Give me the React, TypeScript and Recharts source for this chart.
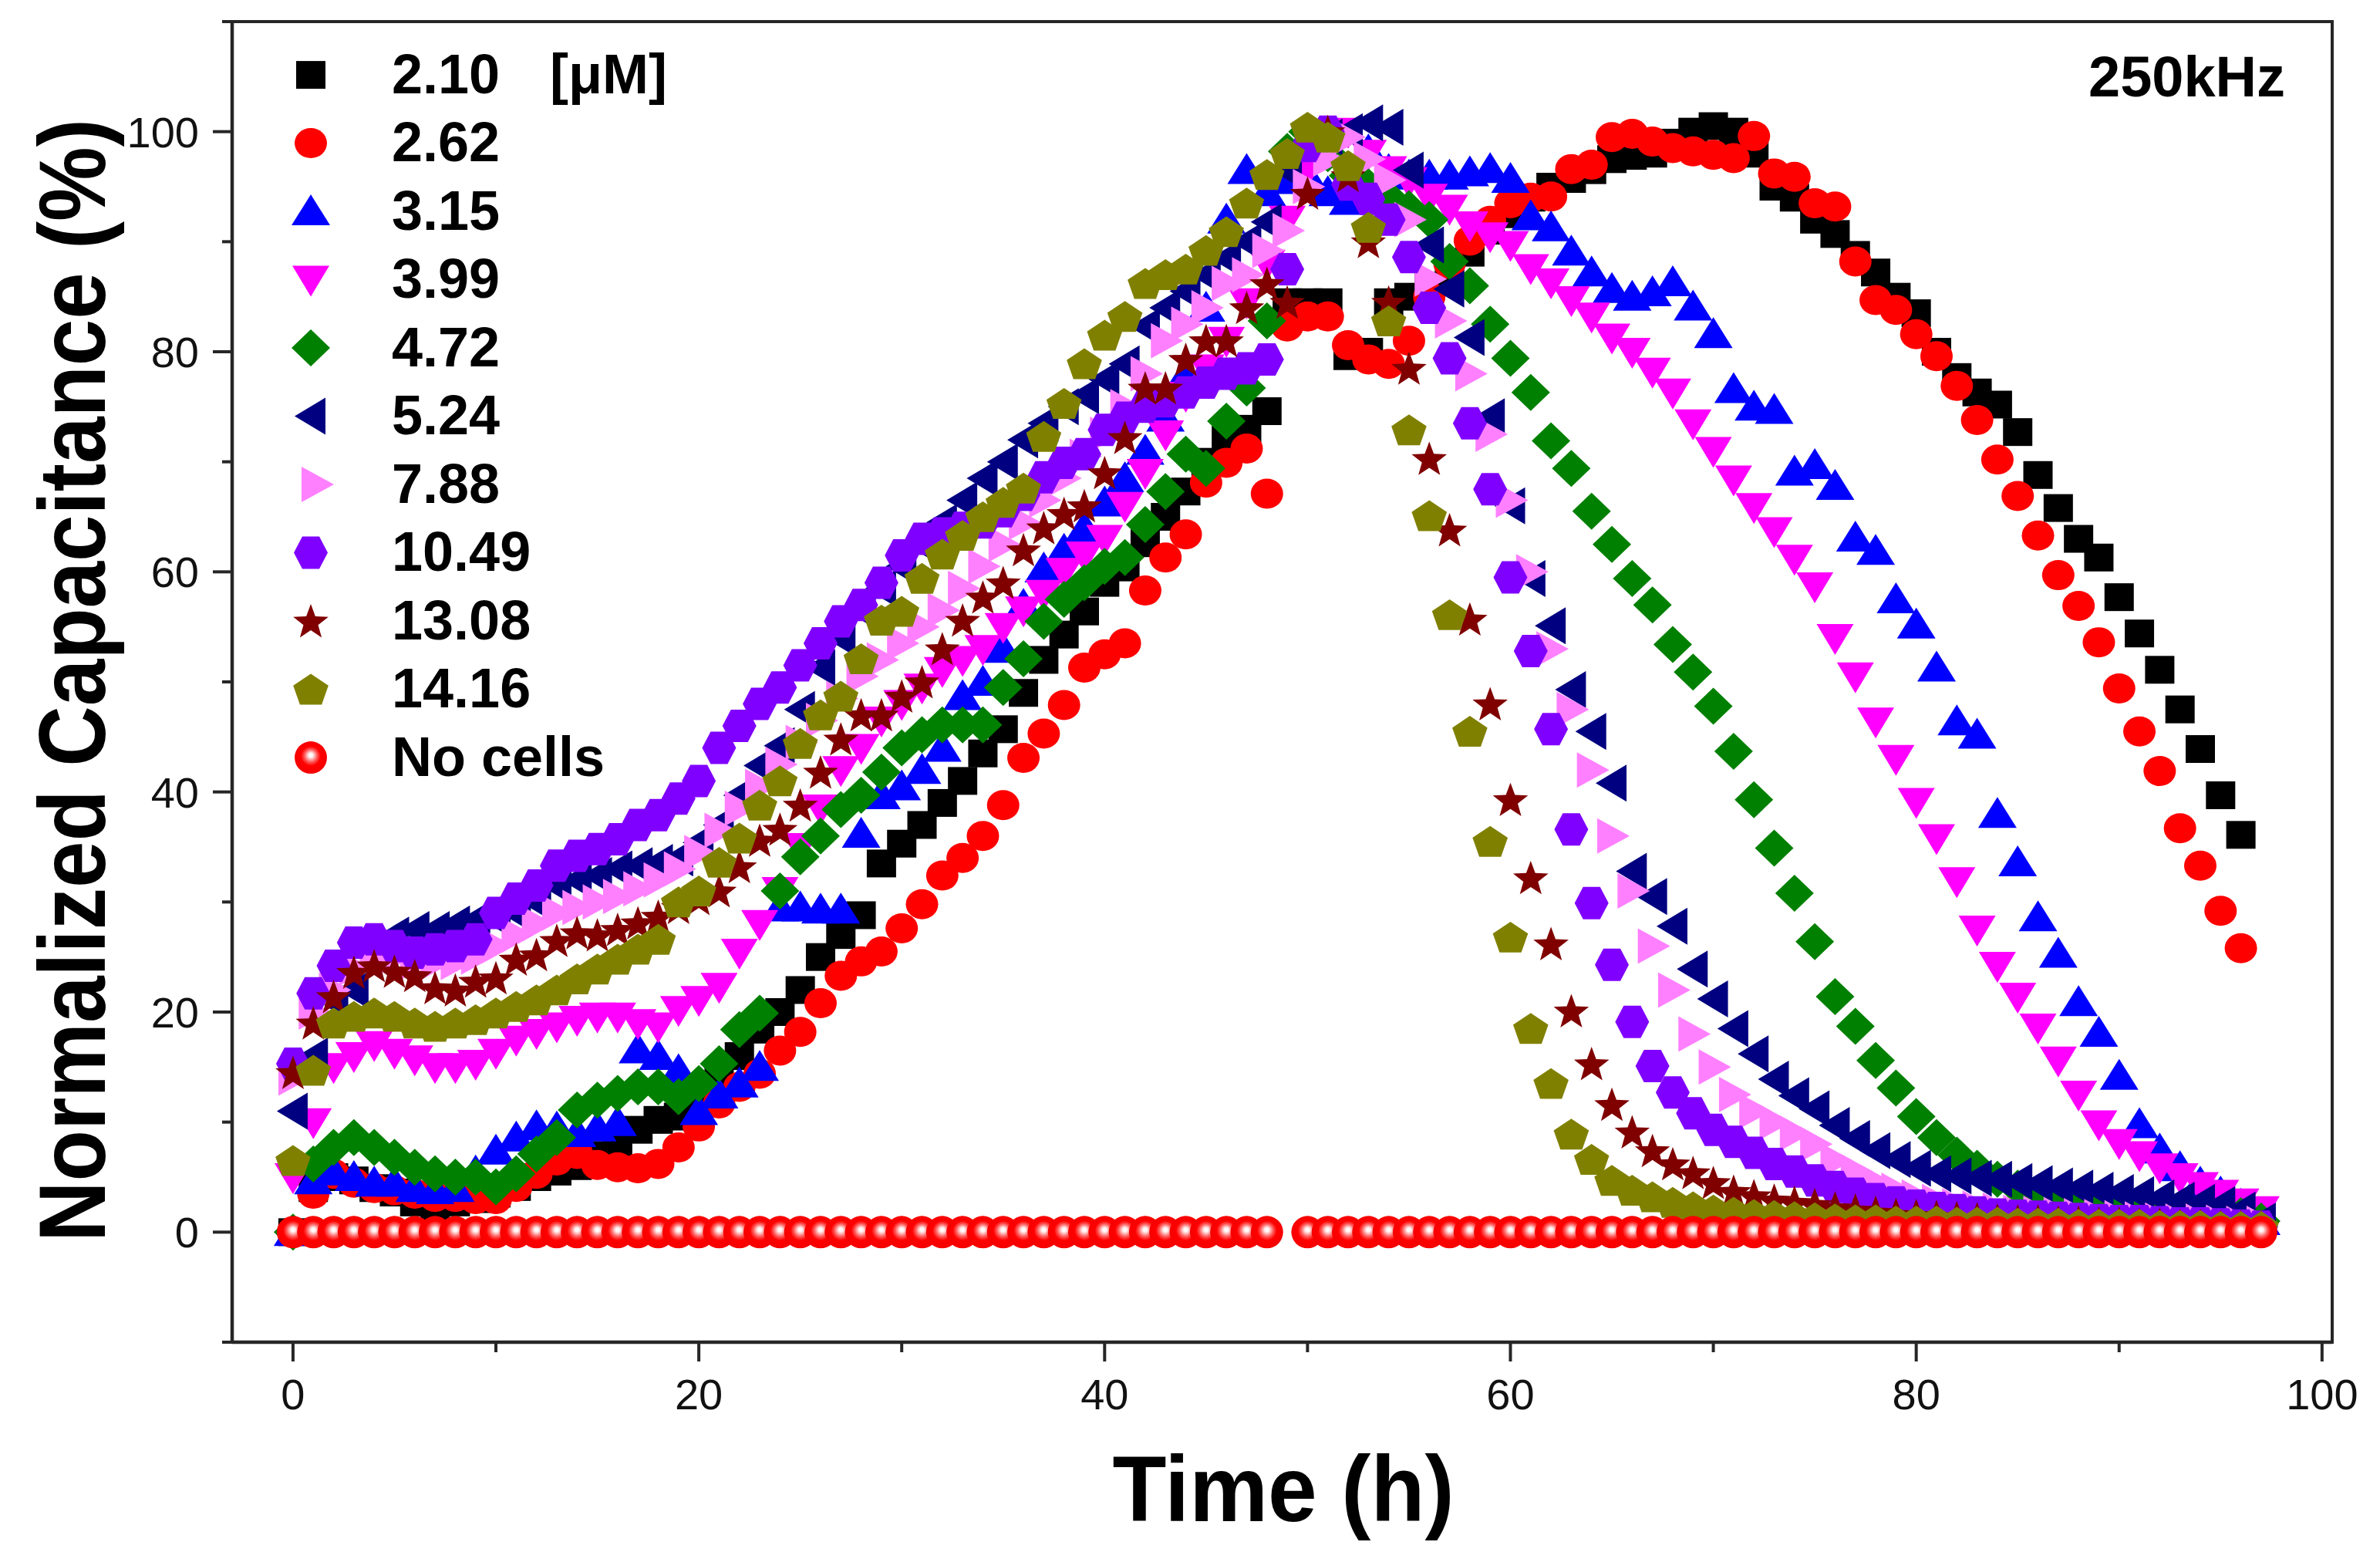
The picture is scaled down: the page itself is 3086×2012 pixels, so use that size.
import React from 'react';
import { ScatterChart, Scatter, XAxis, YAxis, ReferenceArea, Legend, Label } from 'recharts';

// ---------- data ----------
const TIME_H = [
  0, 1, 2, 3, 4, 5, 6, 7, 8, 9,
  10, 11, 12, 13, 14, 15, 16, 17, 18, 19,
  20, 21, 22, 23, 24, 25, 26, 27, 28, 29,
  30, 31, 32, 33, 34, 35, 36, 37, 38, 39,
  40, 41, 42, 43, 44, 45, 46, 47, 48, 49,
  50, 51, 52, 53, 54, 55, 56, 57, 58, 59,
  60, 61, 62, 63, 64, 65, 66, 67, 68, 69,
  70, 71, 72, 73, 74, 75, 76, 77, 78, 79,
  80, 81, 82, 83, 84, 85, 86, 87, 88, 89,
  90, 91, 92, 93, 94, 95, 96, 97,
];

const NOCELLS_TIME = [
  0, 1, 2, 3, 4, 5, 6, 7, 8, 9,
  10, 11, 12, 13, 14, 15, 16, 17, 18, 19,
  20, 21, 22, 23, 24, 25, 26, 27, 28, 29,
  30, 31, 32, 33, 34, 35, 36, 37, 38, 39,
  40, 41, 42, 43, 44, 45, 46, 47, 48,
  50, 51, 52, 53, 54, 55, 56, 57, 58, 59,
  60, 61, 62, 63, 64, 65, 66, 67, 68, 69,
  70, 71, 72, 73, 74, 75, 76, 77, 78, 79,
  80, 81, 82, 83, 84, 85, 86, 87, 88, 89,
  90, 91, 92, 93, 94, 95, 96, 97,
];
const NOCELLS_VALUES = [
  0, 0, 0, 0, 0, 0, 0, 0, 0, 0,
  0, 0, 0, 0, 0, 0, 0, 0, 0, 0,
  0, 0, 0, 0, 0, 0, 0, 0, 0, 0,
  0, 0, 0, 0, 0, 0, 0, 0, 0, 0,
  0, 0, 0, 0, 0, 0, 0, 0, 0,
  0, 0, 0, 0, 0, 0, 0, 0, 0, 0,
  0, 0, 0, 0, 0, 0, 0, 0, 0, 0,
  0, 0, 0, 0, 0, 0, 0, 0, 0, 0,
  0, 0, 0, 0, 0, 0, 0, 0, 0, 0,
  0, 0, 0, 0, 0, 0, 0, 0,
];

const S_210 = [
  0, 4, 5, 4.7, 4, 3.6, 2.7, 2.4, 2.7, 3,
  3.5, 4.1, 5, 5.5, 6, 7, 7.8, 9.3, 10.2, 10.5,
  12, 13.8, 16, 18.4, 20, 22, 25, 27, 28.8, 33.5,
  35.3, 37, 39, 41, 43.5, 45.7, 49, 52, 54.3, 56.4,
  59, 60.4, 62.6, 65, 67.3, 70, 72, 73, 74.6, 84.5,
  84.5, 84.5, 79.6, 80, 84.5, 85, 86, 87.5, 89, 91,
  92.5, 94, 95, 95.7, 96.5, 97.5, 97.8, 98, 99, 100,
  100.5, 100, 98, 95, 94, 92, 90.7, 88.8, 87.2, 85,
  83.5, 80, 77.7, 76.3, 75.2, 72.7, 68.8, 65.8, 63, 61.3,
  57.7, 54.4, 51.1, 47.5, 43.9, 39.7, 36.1,
];

const S_262 = [
  0, 3.5, 5.3, 4.5, 4, 3.8, 3.5, 3.2, 3.2, 3,
  3, 4.1, 5.3, 6.5, 7.1, 6.1, 5.9, 5.8, 6.2, 7.7,
  9.6, 11.7, 13.2, 14.4, 16.5, 18.2, 20.8, 23.3, 24.6, 25.5,
  27.6, 29.8, 32.4, 34, 36, 38.8, 43.1, 45.3, 47.9, 51.3,
  52.5, 53.5, 58.3, 61.3, 63.4, 68.1, 69.9, 71.2, 67.1, 82.3,
  83.2, 83.2, 80.6, 79.3, 78.9, 81, 85, 88, 90.1, 91.9,
  93.5, 94, 94.1, 96.6, 97, 99.5, 99.8, 99.1, 98.5, 98.2,
  97.9, 97.6, 99.6, 96.2, 95.9, 93.5, 93.2, 88.2, 84.7, 83.8,
  81.6, 79.6, 76.9, 73.8, 70.2, 66.9, 63.3, 59.7, 56.9, 53.6,
  49.4, 45.5, 41.9, 36.7, 33.3, 29.2, 25.8,
];

const S_315 = [
  0, 4.7, 5.5, 5, 4.5, 4.5, 4, 3.8, 4, 5.5,
  7.4, 8.6, 9.6, 9.5, 9, 9.5, 10, 16.6, 16, 14.7,
  11, 12.5, 13.5, 15, 29.5, 29.5, 29.3, 29.3, 36.2, 39.7,
  40.5, 42, 44, 48.7, 50, 53, 57, 60.3, 62, 64,
  66.3, 68.5, 71, 74, 78, 84, 92, 96.5, 94.5, 95.6,
  96, 94.5, 93.7, 98.3, 96.5, 96, 96, 96, 96.3, 96.6,
  95.7, 92.3, 91.3, 89.1, 87.2, 85.7, 85, 85.4, 86.3, 84.1,
  81.6, 76.6, 75, 74.7, 69.1, 69.7, 67.8, 63.1, 61.9, 57.5,
  55.2, 51.3, 46.4, 45.2, 38, 33.6, 28.6, 25.3, 20.9, 18.1,
  14.2, 9.8, 7.5, 5.9, 4.5, 3.6, 2.5, 1,
];

const S_399 = [
  5, 10, 15, 16, 17, 16.3, 15.7, 15, 15, 15.3,
  16.3, 17.5, 18.1, 18.7, 19.3, 19.6, 19.6, 19, 18.7, 20.2,
  21.1, 22.3, 25.4, 28, 31, 35, 38.5, 42, 44, 46.5,
  48, 49.5, 51, 52, 53, 55, 56.5, 58, 60, 61.5,
  63, 66, 69, 72.5, 76, 78.5, 81, 84.5, 88, 92,
  96.5, 99.5, 100, 98, 96.5, 95.5, 94, 93, 91.5, 90.5,
  89.7, 87.6, 86.3, 84.7, 83.2, 81.3, 80, 78.2, 76.3, 73.5,
  71, 68.4, 65.9, 63.7, 61.2, 58.7, 54, 50.5, 46.4, 43,
  39.1, 35.8, 31.9, 27.5, 24.2, 21.4, 18.6, 15.6, 12.5, 9.8,
  8.1, 7, 5.9, 5, 4.2, 3.5, 2.7, 2,
];

const S_472 = [
  0, 6.2, 7.7, 8.6, 7.7, 6.8, 5.9, 5.3, 5, 5,
  4.1, 5.3, 7.1, 8.6, 11.1, 12, 12.6, 13.2, 13.2, 12.3,
  13.5, 15.3, 18.4, 19.9, 31, 34.1, 36, 38.4, 39.7, 41.8,
  44, 45.2, 46.1, 46.1, 46.1, 49.5, 52.1, 55.5, 57.5, 59,
  60.5, 61.3, 64.3, 67.3, 70.7, 69.4, 73.7, 76.7, 82.8, 98.2,
  100, 98, 96, 95, 94, 93, 92, 88.2, 86, 82.5,
  79.4, 76.3, 71.9, 69.4, 65.5, 62.5, 59.4, 57, 53.4, 50.9,
  47.8, 43.7, 39.3, 34.9, 30.8, 26.4, 21.4, 18.7, 15.6, 13.1,
  10.5, 8.6, 7, 5.8, 4.8, 4, 3.4, 3, 2.6, 2.3,
  2, 1.8, 1.6, 1.5, 1.4, 1.3, 1.5, 1,
];

const S_524 = [
  11, 16, 21, 22, 25, 27, 27.5, 27.5, 28, 28.4,
  28.5, 29, 30, 31.5, 32, 32.4, 33, 33.3, 33.6, 34,
  35.4, 37, 39.7, 42.4, 44.2, 47.5, 51.3, 54, 56.5, 58.5,
  60.5, 62.5, 64.5, 66.5, 68.5, 70, 72, 73.5, 75, 76,
  77.5, 78.9, 82.3, 84, 85.5, 87, 88.5, 90, 91.8, 96.5,
  99, 99.5, 100, 100.8, 100.4, 96.5, 89.7, 85.7, 81.3, 74.1,
  66, 59.4, 55.1, 49.3, 45.5, 40.8, 32.8, 30.5, 27.8, 23.9,
  21.2, 18.5, 16.2, 13.9, 12.4, 11.2, 9.7, 8.5, 7.4, 6.6,
  5.8, 5.3, 5.1, 4.9, 4.8, 4.6, 4.4, 4.2, 4, 3.8,
  3.6, 3.4, 3.1, 2.9, 2.7, 2.5, 2, 1,
];

const S_788 = [
  14, 20, 22, 24, 25, 25, 24.5, 24.5, 24.5, 25,
  26, 27, 28, 29, 29.5, 30, 30.5, 31.2, 32, 33,
  34.5, 36.5, 38.5, 40.5, 42.5, 44.5, 46.5, 48.5, 50.5, 52,
  53.5, 55, 56.5, 58.5, 60.5, 62.5, 64.5, 66.5, 68.5, 70.5,
  72.5, 75, 78, 81, 82.5, 84, 86.2, 87, 89.2, 91,
  95, 97.5, 99.5, 97.5, 95.6, 92, 86.6, 82.8, 78, 72.5,
  66.5, 60, 53, 47.5, 42, 36, 31, 26, 22, 18,
  15, 12.5, 11, 10, 9, 8, 6.5, 5.5, 4.5, 3.8,
  3.2, 2.8, 2.4, 2.2, 2, 1.8, 1.7, 1.6, 1.5, 1.4,
  1.3, 1.2, 1.1, 1, 1, 0.9, 0.8, 0.8,
];

const S_1049 = [
  15.3, 21.7, 24.2, 26.3, 26.6, 26, 25.4, 25.7, 26, 26.6,
  29, 30.3, 31.5, 33.3, 34.2, 34.8, 35.7, 37, 37.9, 39.4,
  41, 44, 46, 48, 49.5, 51.5, 53.5, 55.5, 57, 59,
  61.5, 63, 63.5, 64, 64.5, 65.5, 67, 68.6, 69.9, 70.7,
  72.9, 74, 75, 75.5, 76.3, 77.2, 78, 78.5, 79.3, 87.5,
  98.7, 100, 95.2, 93.9, 92, 88.6, 84, 79.4, 73.5, 67.5,
  59.5, 52.8, 45.7, 36.6, 29.9, 24.3, 19.1, 15.1, 12.7, 10.8,
  9.3, 8.2, 7.2, 6.2, 5.5, 4.7, 4.1, 3.5, 3, 2.7,
  2.4, 2.2, 2, 1.8, 1.6, 1.5, 1.4, 1.3, 1.2, 1.1,
  1, 1, 0.9, 0.8, 0.8, 0.7, 0.6, 0.5,
];

const S_1308 = [
  14.5, 19, 21.4, 23.6, 24.2, 23.7, 23.3, 22.2, 22, 22.8,
  23.1, 24.8, 25.2, 26.5, 27.2, 27, 27.5, 28.1, 28.7, 29.5,
  30.3, 31, 33.2, 35.6, 36.6, 38.8, 41.8, 44.8, 47, 47,
  48.7, 50, 53, 55.6, 57.7, 59, 62, 64, 65.3, 66,
  69, 72.2, 76.7, 76.7, 79.3, 81, 81, 84, 86.2, 84.5,
  94.4, 100, 96, 90, 84.5, 78.5, 70.3, 63.8, 55.7, 48,
  39.3, 32.2, 26.2, 20.1, 15.3, 11.6, 9.1, 7.4, 6.2, 5.4,
  4.5, 3.7, 3.3, 2.9, 2.7, 2.5, 2.2, 2, 1.8, 1.6,
  1.5, 1.4, 1.3, 1.2, 1.1, 1, 1, 0.9, 0.9, 0.8,
  0.8, 0.7, 0.7, 0.6, 0.6, 0.5, 0.5, 0.5,
];

const S_1416 = [
  6.5, 14.7, 19, 19.6, 19.9, 19.6, 19, 18.7, 19, 19.3,
  19.9, 20.5, 21.1, 22, 23, 23.9, 24.8, 25.7, 26.6, 30,
  31, 33.6, 35.8, 38.8, 41, 44.4, 47, 48.7, 52.1, 55.6,
  56.4, 59.4, 61.6, 63.3, 65, 66.3, 67.6, 72.3, 75.3, 78.9,
  81.5, 83.2, 86.2, 87, 87.5, 89.2, 90.9, 93.5, 96.1, 98,
  100.4, 99.5, 96.9, 91.3, 82.8, 72.9, 65.1, 56.1, 45.5, 35.5,
  26.8, 18.5, 13.5, 8.9, 6.6, 4.7, 3.8, 3.2, 2.7, 2.3,
  2, 1.8, 1.6, 1.5, 1.4, 1.3, 1.2, 1.1, 1.1, 1,
  1, 1, 0.9, 0.9, 0.9, 0.8, 0.8, 0.8, 0.7, 0.7,
  0.7, 0.7, 0.6, 0.6, 0.6, 0.5, 0.5, 0.5,
];

const X_TICKS = [0, 10, 20, 30, 40, 50, 60, 70, 80, 90, 100];
const Y_TICKS = [-10, 0, 10, 20, 30, 40, 50, 60, 70, 80, 90, 100, 110];

// ---------- style ----------
const FONT = "'Liberation Sans', Arial, Helvetica, sans-serif";
const AXIS_COLOR = '#262626';

type Kind = 'square' | 'circle' | 'up' | 'down' | 'diamond' | 'left' | 'right' | 'hexagon' | 'star' | 'pentagon' | 'sphere';

const SERIES: { name: string; times: number[]; values: number[]; color: string; kind: Kind }[] = [
  { name: '2.10', times: TIME_H, values: S_210, color: '#000000', kind: 'square' },
  { name: '2.62', times: TIME_H, values: S_262, color: '#FF0000', kind: 'circle' },
  { name: '3.15', times: TIME_H, values: S_315, color: '#0000FF', kind: 'up' },
  { name: '3.99', times: TIME_H, values: S_399, color: '#FF00FF', kind: 'down' },
  { name: '4.72', times: TIME_H, values: S_472, color: '#008000', kind: 'diamond' },
  { name: '5.24', times: TIME_H, values: S_524, color: '#000080', kind: 'left' },
  { name: '7.88', times: TIME_H, values: S_788, color: '#FF80FF', kind: 'right' },
  { name: '10.49', times: TIME_H, values: S_1049, color: '#8000FF', kind: 'hexagon' },
  { name: '13.08', times: TIME_H, values: S_1308, color: '#800000', kind: 'star' },
  { name: '14.16', times: TIME_H, values: S_1416, color: '#808000', kind: 'pentagon' },
  { name: 'No cells', times: NOCELLS_TIME, values: NOCELLS_VALUES, color: '#FF0000', kind: 'sphere' },
];

const toPoints = (times: number[], values: number[]) =>
  values.map((v, i) => ({ x: times[i], y: v }));

// ---------- marker glyphs ----------
const polyPts = (pts: number[][]) => pts.map((p) => `${p[0]},${p[1]}`).join(' ');

const radialPts = (cx: number, cy: number, n: number, rOuter: number, rInner: number | null, ry = 1) => {
  const pts: number[][] = [];
  const steps = rInner == null ? n : n * 2;
  for (let i = 0; i < steps; i++) {
    const a = -Math.PI / 2 + (i * 2 * Math.PI) / steps;
    const r = rInner == null ? rOuter : i % 2 === 0 ? rOuter : rInner;
    pts.push([cx + r * Math.cos(a), cy + r * Math.sin(a) * ry]);
  }
  return polyPts(pts);
};

function Glyph({ kind, color, cx, cy }: { kind: Kind; color: string; cx: number; cy: number }) {
  if (cx == null || cy == null || isNaN(cx) || isNaN(cy)) return null;
  switch (kind) {
    case 'square':
      return <rect x={cx - 19} y={cy - 18} width={38} height={36} fill={color} />;
    case 'circle':
      return <ellipse cx={cx} cy={cy} rx={21} ry={19.5} fill={color} />;
    case 'up':
      return <polygon points={polyPts([[cx - 25, cy + 18], [cx + 25, cy + 18], [cx, cy - 22]])} fill={color} />;
    case 'down':
      return <polygon points={polyPts([[cx - 24, cy - 18], [cx + 24, cy - 18], [cx, cy + 22]])} fill={color} />;
    case 'diamond':
      return <polygon points={polyPts([[cx, cy - 24], [cx + 25, cy], [cx, cy + 24], [cx - 25, cy]])} fill={color} />;
    case 'left':
      return <polygon points={polyPts([[cx - 21, cy], [cx + 19, cy - 24], [cx + 19, cy + 24]])} fill={color} />;
    case 'right':
      return <polygon points={polyPts([[cx + 23, cy], [cx - 19, cy - 23], [cx - 19, cy + 23]])} fill={color} />;
    case 'hexagon':
      return (
        <polygon
          points={polyPts([[cx - 22, cy], [cx - 11, cy - 21], [cx + 11, cy - 21], [cx + 22, cy], [cx + 11, cy + 21], [cx - 11, cy + 21]])}
          fill={color}
        />
      );
    case 'star':
      return <polygon points={radialPts(cx, cy + 2, 5, 24, 10)} fill={color} />;
    case 'pentagon':
      return <polygon points={radialPts(cx, cy + 2, 5, 24, null, 0.92)} fill={color} />;
    case 'sphere':
      return <circle cx={cx} cy={cy} r={21} fill="url(#sphereGrad)" />;
    default:
      return null;
  }
}

const SphereDefs = () => (
  <defs>
    <radialGradient id="sphereGrad" cx="50%" cy="48%" r="52%" fx="50%" fy="42%">
      <stop offset="0%" stopColor="#ffffff" />
      <stop offset="12%" stopColor="#fff4f4" />
      <stop offset="38%" stopColor="#ff5a5a" />
      <stop offset="58%" stopColor="#ff0000" />
      <stop offset="100%" stopColor="#f50000" />
    </radialGradient>
  </defs>
);

// ---------- axis ticks & labels ----------
const XTick = (props: any) => {
  const { x, y, payload } = props;
  const v = payload.value;
  const major = v % 20 === 0;
  return (
    <g>
      <line x1={x} x2={x} y1={y} y2={y + (major ? 25 : 13)} stroke={AXIS_COLOR} strokeWidth={4} />
      {major && (
        <text x={x} y={y + 87} textAnchor="middle" fontSize={56} fontFamily={FONT} fill="#111">
          {v}
        </text>
      )}
    </g>
  );
};

const YTick = (props: any) => {
  const { x, y, payload } = props;
  const v = payload.value;
  const major = v % 20 === 0;
  return (
    <g>
      <line x1={x} x2={x - (major ? 25 : 13)} y1={y} y2={y} stroke={AXIS_COLOR} strokeWidth={4} />
      {major && (
        <text x={x - 43} y={y + 20} textAnchor="end" fontSize={56} fontFamily={FONT} fill="#111">
          {v}
        </text>
      )}
    </g>
  );
};

const XTitle = () => (
  <g>
    <SphereDefs />
    <text
      x={1664}
      y={1972}
      textAnchor="middle"
      fontSize={120}
      fontWeight="bold"
      fontFamily={FONT}
      fill="#000"
      textLength={443}
      lengthAdjust="spacingAndGlyphs"
    >
      Time (h)
    </text>
  </g>
);

const YTitle = () => (
  <text
    transform="translate(136, 882) rotate(-90)"
    textAnchor="middle"
    fontSize={122}
    fontWeight="bold"
    fontFamily={FONT}
    fill="#000"
    textLength={1456}
    lengthAdjust="spacingAndGlyphs"
  >
    Normalized Capacitance (%)
  </text>
);

const FreqLabel = () => (
  <text x={2708} y={125} fontSize={74} fontWeight="bold" fontFamily={FONT} fill="#000">
    250kHz
  </text>
);

// ---------- legend ----------
const LegendBlock = () => (
  <svg width={1000} height={1060} style={{ display: 'block', overflow: 'visible' }}>
    {SERIES.map((s, i) => {
      const base = 120.6 + i * 88.5;
      return (
        <g key={s.name}>
          <Glyph kind={s.kind} color={s.color} cx={s.kind === 'right' ? 410 : 403} cy={base - 23.5} />
          <text x={508} y={base} fontSize={72} fontWeight="bold" fontFamily={FONT} fill="#000">
            {s.name}
          </text>
        </g>
      );
    })}
    <text x={713} y={120.6} fontSize={72} fontWeight="bold" fontFamily={FONT} fill="#000">
      [μM]
    </text>
  </svg>
);

export default function App() {
  return (
    <div style={{ position: 'absolute', left: 0, top: 0, width: 3086, height: 2012, background: '#fff' }}>
      <ScatterChart width={3086} height={2012} margin={{ top: 28, right: 62, bottom: 0, left: 0 }}>
        <XAxis
          type="number"
          dataKey="x"
          domain={[-3, 100.5]}
          allowDataOverflow
          ticks={X_TICKS}
          interval={0}
          height={272}
          tickSize={0}
          tickMargin={0}
          tickLine={false}
          tick={XTick}
          axisLine={{ stroke: AXIS_COLOR, strokeWidth: 4.5 }}
          label={<Label content={XTitle} />}
        />
        <YAxis
          type="number"
          dataKey="y"
          domain={[-10, 110]}
          allowDataOverflow
          ticks={Y_TICKS}
          interval={0}
          width={301}
          tickSize={0}
          tickMargin={0}
          tickLine={false}
          tick={YTick}
          axisLine={{ stroke: AXIS_COLOR, strokeWidth: 4.5 }}
          label={<Label content={YTitle} />}
        />
        <ReferenceArea
          x1={-3}
          x2={100.5}
          y1={-10}
          y2={110}
          fill="none"
          fillOpacity={0}
          stroke={AXIS_COLOR}
          strokeWidth={4}
          ifOverflow="visible"
          label={<Label content={FreqLabel} />}
        />
        {SERIES.map((s) => (
          <Scatter
            key={s.name}
            name={s.name}
            data={toPoints(s.times, s.values)}
            fill={s.color}
            isAnimationActive={false}
            shape={(p: any) => <Glyph kind={s.kind} color={s.color} cx={p.cx} cy={p.cy} />}
          />
        ))}
        <Legend
          layout="horizontal"
          verticalAlign="middle"
          align="center"
          content={LegendBlock}
          wrapperStyle={{ position: 'absolute', left: 0, top: 0, width: 1000, height: 1060, margin: 0, padding: 0 }}
        />
      </ScatterChart>
    </div>
  );
}
